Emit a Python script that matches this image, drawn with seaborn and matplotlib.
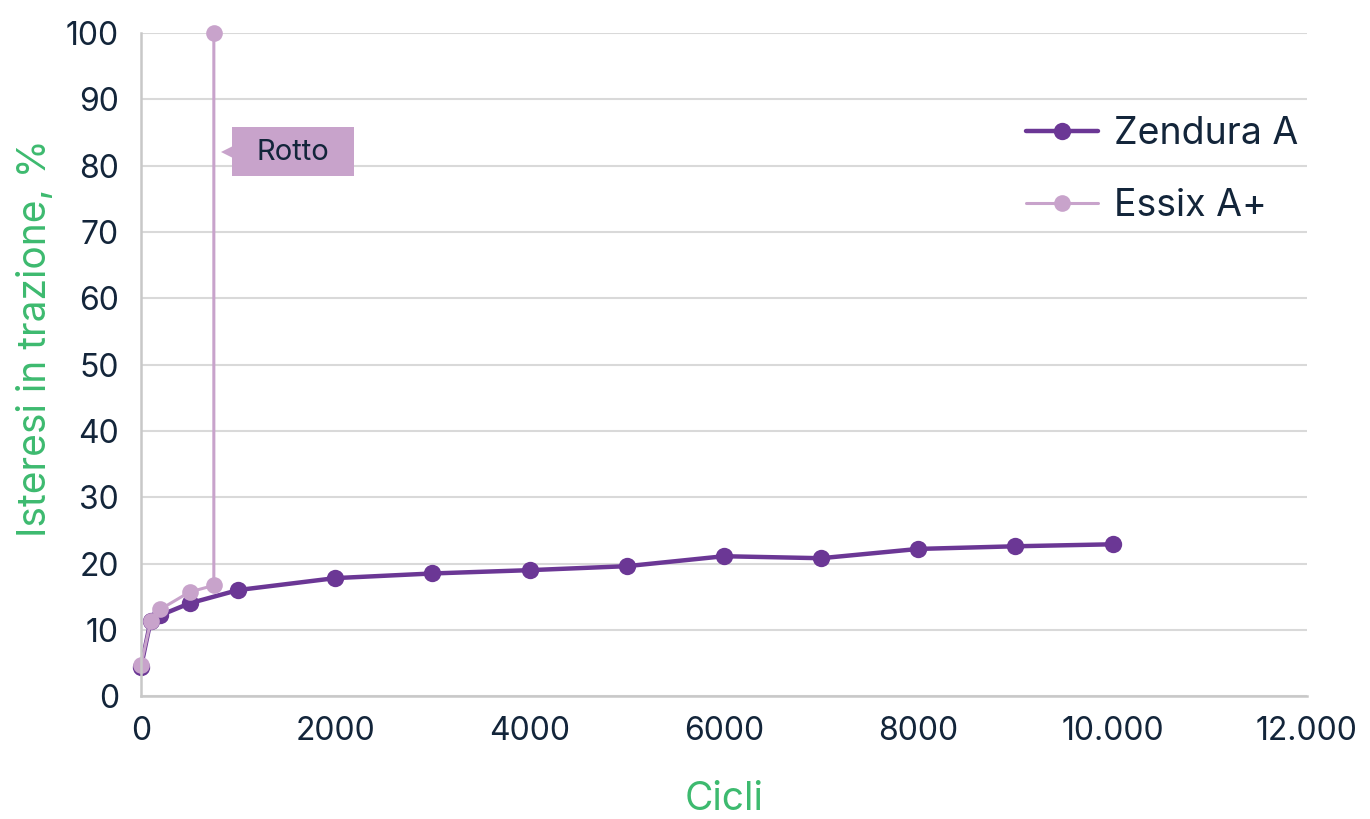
import matplotlib
matplotlib.use("Agg")
import matplotlib.pyplot as plt
import matplotlib.patches as mpatches
import seaborn as sns
import pandas as pd

# Data
zendura_x = [0, 100, 200, 500, 1000, 2000, 3000, 4000, 5000, 6000, 7000, 8000, 9000, 10000]
zendura_y = [4.4, 11.4, 12.2, 14.0, 16.0, 17.8, 18.5, 19.0, 19.6, 21.1, 20.8, 22.2, 22.6, 22.9]
essix_x = [0, 100, 200, 500, 750, 750]
essix_y = [4.7, 11.3, 13.1, 15.7, 16.7, 100]
x_ticks = [0, 2000, 4000, 6000, 8000, 10000, 12000]
x_tick_labels = ["0", "2000", "4000", "6000", "8000", "10.000", "12.000"]
y_ticks = [0, 10, 20, 30, 40, 50, 60, 70, 80, 90, 100]

sns.set_theme(style="white")
plt.rcParams['font.family'] = ['Inter', 'DejaVu Sans']

text_color = "#13253a"
green = "#3dba6f"
c_z = "#6b3795"
c_e = "#c8a3cb"

df = pd.concat([
    pd.DataFrame({"x": zendura_x, "y": zendura_y, "s": "Zendura A"}),
    pd.DataFrame({"x": essix_x, "y": essix_y, "s": "Essix A+"}),
], ignore_index=True)

fig = plt.figure(figsize=(13.7, 8.19), dpi=100)
ax = fig.add_axes([0.1029, 0.150, 0.851, 0.8097])

sns.lineplot(data=df[df.s == "Zendura A"], x="x", y="y", sort=False, estimator=None,
             color=c_z, lw=3.2, marker="o", markersize=12.5, markeredgewidth=0,
             label="Zendura A", ax=ax)
sns.lineplot(data=df[df.s == "Essix A+"], x="x", y="y", sort=False, estimator=None,
             color=c_e, lw=2.2, marker="o", markersize=12, markeredgewidth=0,
             label="Essix A+", ax=ax)
for ln in ax.lines:
    ln.set_clip_on(False)

ax.set_xlim(0, 12000)
ax.set_ylim(0, 100)
ax.set_xticks(x_ticks)
ax.set_xticklabels(x_tick_labels)
ax.set_yticks(y_ticks)
ax.grid(axis="y", color="#d9d9d9", lw=1.5)
ax.set_axisbelow(True)
for s in ["top", "right"]:
    ax.spines[s].set_visible(False)
for s in ["left", "bottom"]:
    ax.spines[s].set_color("#c8c8c8")
    ax.spines[s].set_linewidth(1.8)
ax.tick_params(axis="both", labelsize=23, colors=text_color, length=0)
ax.tick_params(axis="x", pad=14)
ax.tick_params(axis="y", pad=16)
ax.set_xlabel("Cicli", fontsize=28, color=green, labelpad=25)
ax.set_ylabel("Isteresi in trazione, %", fontsize=28, color=green)
ax.yaxis.set_label_coords(-0.075, 0.54)

# Legend
leg = ax.legend(loc="upper right", bbox_to_anchor=(1.022, 0.925), frameon=False, fontsize=27,
                handlelength=1.9, labelspacing=0.95, handletextpad=0.45)
for t in leg.get_texts():
    t.set_color(text_color)

# Annotation "Rotto"
ax.add_patch(mpatches.Rectangle((936, 78.4), 1256, 7.4, fc=c_e, ec="none", zorder=5))
ax.plot([902], [82.0], marker="<", markersize=12, color=c_e, markeredgewidth=0, ls="none",
        zorder=5)
ax.text(1564, 82.0, "Rotto", fontsize=21, color=text_color, ha="center", va="center",
        zorder=6)

fig.savefig("out.png", dpi=100)
